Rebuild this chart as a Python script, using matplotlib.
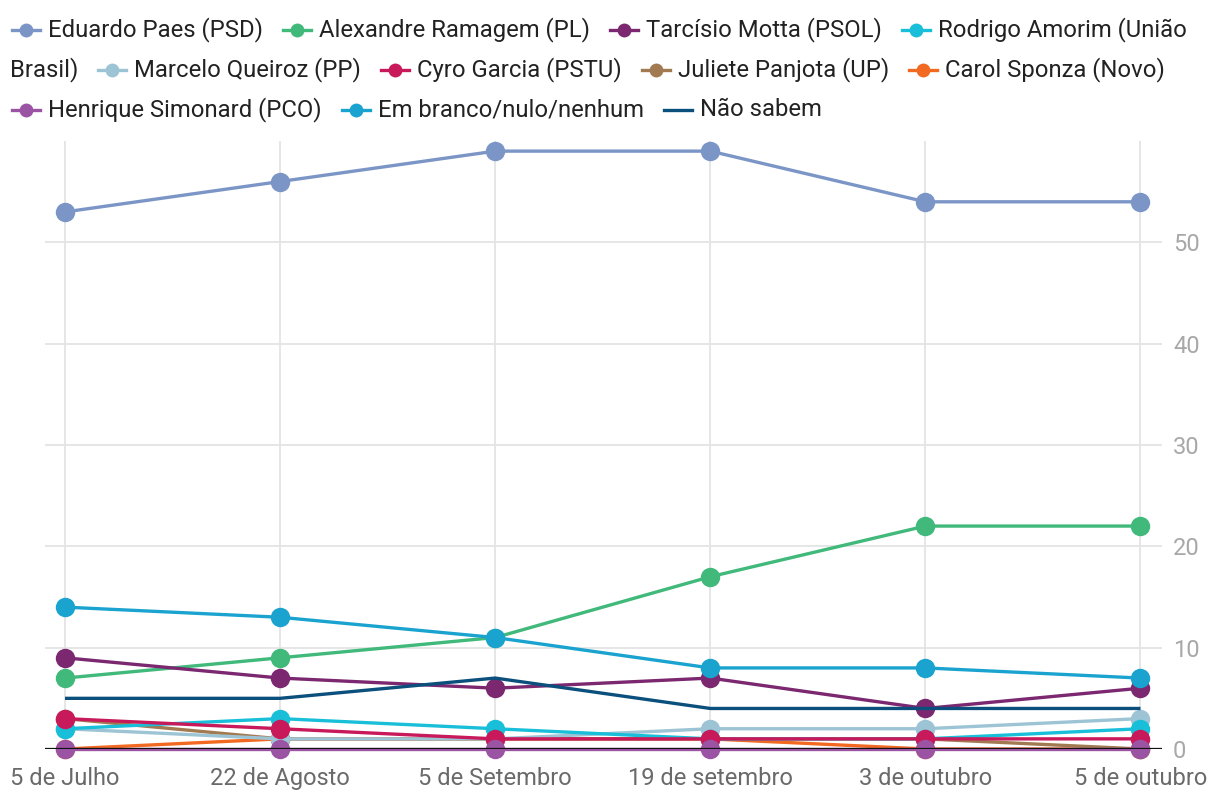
import matplotlib
matplotlib.use("Agg")
import matplotlib.pyplot as plt
from matplotlib.lines import Line2D

plt.rcParams['font.family'] = ['Roboto', 'DejaVu Sans']

dates = ["5 de Julho", "22 de Agosto", "5 de Setembro", "19 de setembro", "3 de outubro", "5 de outubro"]

paes = [53, 56, 59, 59, 54, 54]
ramagem = [7, 9, 11, 17, 22, 22]
tarcisio = [9, 7, 6, 7, 4, 6]
amorim = [2, 3, 2, 1, 1, 2]
queiroz = [2, 1, 1, 2, 2, 3]
cyro = [3, 2, 1, 1, 1, 1]
juliete = [3, 1, 1, 1, 1, 0]
carol = [0, 1, 1, 1, 0, 0]
henrique = [0, 0, 0, 0, 0, 0]
branco = [14, 13, 11, 8, 8, 7]
nao_sabem = [5, 5, 7, 4, 4, 4]

series = [
    ("Eduardo Paes (PSD)", paes, "#7b96c6", True, 3),
    ("Alexandre Ramagem (PL)", ramagem, "#41b97b", True, 3.1),
    ("Tarcísio Motta (PSOL)", tarcisio, "#7b2870", True, 3.2),
    ("Rodrigo Amorim (União Brasil)", amorim, "#19bfd9", True, 3.7),
    ("Marcelo Queiroz (PP)", queiroz, "#9dc4d5", True, 3.6),
    ("Cyro Garcia (PSTU)", cyro, "#c8195a", True, 3.8),
    ("Juliete Panjota (UP)", juliete, "#a27a52", True, 3.5),
    ("Carol Sponza (Novo)", carol, "#f26a22", True, 3.4),
    ("Henrique Simonard (PCO)", henrique, "#9b54a3", True, 3.9),
    ("Em branco/nulo/nenhum", branco, "#1ba3d0", True, 4.0),
    ("Não sabem", nao_sabem, "#0b4f7c", False, 4.1),
]

W, H = 1220, 800
fig = plt.figure(figsize=(W / 100, H / 100), dpi=100)
ax_left, ax_right = 45, 1162
ax_top, ax_bottom = 141, 749
ax = fig.add_axes([ax_left / W, 1 - ax_bottom / H, (ax_right - ax_left) / W, (ax_bottom - ax_top) / H])

x = list(range(len(dates)))
for name, vals, col, mk, z in series:
    ax.plot(x, vals, color=col, lw=2.4, marker="o" if mk else None, ms=14,
            markeredgewidth=0, zorder=z, clip_on=False, solid_capstyle="butt")

ax.set_xlim(-0.093, 5.1)
ax.set_ylim(0, 60)
ax.set_yticks([0, 10, 20, 30, 40, 50])
ax.set_xticks(x)
ax.set_xticklabels(dates)
for s in ax.spines.values():
    s.set_visible(False)
ax.yaxis.tick_right()
ax.tick_params(axis="y", length=0, labelsize=17, labelcolor="#a8a8a8", pad=8)
ax.tick_params(axis="x", length=0, labelsize=17, labelcolor="#6a6a6a", pad=13)
ax.grid(True, color="#e4e4e4", lw=1.3, zorder=0)
ax.set_axisbelow(True)
ax.axhline(0, color="#111111", lw=1.6, zorder=3.95)

# custom wrapped legend (figure pixel coordinates)
fig.canvas.draw()
renderer = fig.canvas.get_renderer()
fs = 17.2
row_y = [30, 70, 110]
handle_w, text_gap, entry_gap = 28, 8, 20
cx, row = 12, 0
right_limit = 1205


def text_width(s):
    t = fig.text(0, 0, s, fontsize=fs)
    w = t.get_window_extent(renderer).width
    t.remove()
    return w


def put_handle(xp, yp, col, mk):
    fy = 1 - yp / H
    fig.add_artist(Line2D([xp / W, (xp + handle_w) / W], [fy, fy], color=col, lw=2.4,
                          transform=fig.transFigure))
    if mk:
        fig.add_artist(Line2D([(xp + handle_w / 2) / W], [fy], color=col, marker="o", ms=10,
                              markeredgewidth=0, transform=fig.transFigure))


def put_text(xp, yp, s):
    fig.text(xp / W, 1 - yp / H, s, fontsize=fs, color="#222222", va="center", ha="left")


for name, vals, col, mk, z in series:
    w = text_width(name)
    if cx + handle_w + text_gap + w > right_limit:
        words = name.split(" ")
        first, rest = "", ""
        for i in range(len(words) - 1, 0, -1):
            cand = " ".join(words[:i])
            if cx + handle_w + text_gap + text_width(cand) <= right_limit:
                first = cand
                rest = " ".join(words[i:])
                break
        if first and rest:
            put_handle(cx, row_y[row], col, mk)
            put_text(cx + handle_w + text_gap, row_y[row], first)
            row += 1
            cx = 10
            put_text(cx, row_y[row], rest)
            cx += text_width(rest) + entry_gap
            continue
        row += 1
        cx = 12
    put_handle(cx, row_y[row], col, mk)
    put_text(cx + handle_w + text_gap, row_y[row], name)
    cx += handle_w + text_gap + w + entry_gap

fig.savefig("out.png", dpi=100)
